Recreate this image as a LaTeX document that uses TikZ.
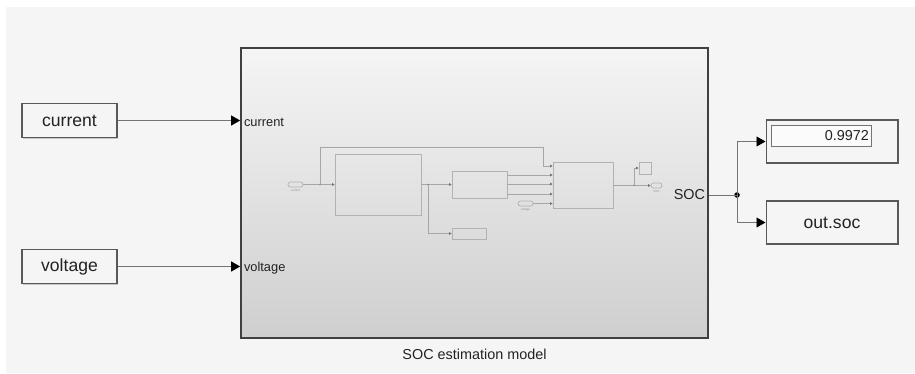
\documentclass[tikz,border=0pt]{standalone}
\usepackage{fontspec}
\setmainfont{Liberation Sans}
\usetikzlibrary{arrows.meta,shadows}

\definecolor{canvas}{HTML}{F5F5F5}
\definecolor{ink}{HTML}{222222}

\begin{document}
\begin{tikzpicture}[x=0.02cm,y=-0.02cm]
\tikzstyle{block}=[draw=black!65, line width=0.6pt, fill=canvas, inner sep=0pt,
  drop shadow={shadow xshift=0.8pt, shadow yshift=-0.8pt, fill=black!40},
  minimum width=1.9cm, minimum height=0.69cm, text=ink, font=\fontsize{10}{12}\selectfont]
\tikzstyle{sub}=[draw=black!75, line width=1pt, inner sep=0pt,
  top color=canvas, middle color=black!6, bottom color=black!19,
  drop shadow={shadow xshift=0.8pt, shadow yshift=-0.8pt, fill=black!40},
  minimum width=9.34cm, minimum height=5.8cm]
\tikzstyle{port}=[text=ink, inner sep=2pt, font=\fontsize{7.3}{9}\selectfont]
\tikzstyle{sig}=[draw=black!55, line width=0.5pt, -{Triangle[length=0.18cm,width=0.2cm,color=black]}]
\tikzstyle{line}=[draw=black!55, line width=0.5pt]
\tikzstyle{mini}=[draw=black!30, line width=0.4pt, inner sep=0pt]
\tikzstyle{minio}=[mini, rounded corners=0.05cm, minimum height=0.1cm]
\tikzstyle{wire}=[draw=black!35, line width=0.35pt]
\tikzstyle{mwire}=[wire, -{Triangle[length=0.05cm,width=0.05cm,color=black!55]}]
\tikzstyle{tiny}=[text=black!45, inner sep=0pt, font=\fontsize{1.6}{2}\selectfont]

\useasboundingbox (0,0) rectangle (915,373);
\fill[white] (0,0) rectangle (915,373);
\fill[canvas] (6,7) rectangle (915,373);

% sources
\node[block] (cur) at (69.5,120.5) {current};
\node[block] (volt) at (69.5,266.5) {voltage};

% subsystem
\node[sub] (soc) at (474.5,193) {};
\node[text=ink, font=\fontsize{8.2}{10}\selectfont] (cap) at (474.5,354) {SOC estimation model};

\draw[sig] (cur.east) -- (cur.east -| soc.west);
\draw[sig] (volt.east) -- (volt.east -| soc.west);
\node[port, anchor=west] (pcur) at ([yshift=-1pt]cur.east -| soc.west) {current};
\node[port, anchor=west] (pvolt) at ([yshift=-1pt]volt.east -| soc.west) {voltage};

% contents of the subsystem
\node[minio, minimum width=0.3cm] (inc) at (295.5,184.5) {};
\node[tiny] (lc) at (295.5,191) {current};
\node[mini, minimum width=1.72cm, minimum height=1.22cm] (b1) at (378,184.5) {};
\node[mini, minimum width=1.1cm, minimum height=0.54cm] (b2) at (479.5,184.5) {};
\node[mini, minimum width=0.68cm, minimum height=0.22cm] (b4) at (469,233.5) {};
\node[mini, minimum width=1.2cm, minimum height=0.92cm] (b3) at (583,185) {};
\node[minio, minimum width=0.3cm] (inv) at (525.5,203.5) {};
\node[tiny] (lv) at (525.5,210) {voltage};
\node[minio, minimum width=0.22cm] (outs) at (656.5,185.5) {};
\node[tiny] (ls) at (656.5,192) {SOC};
\node[mini, minimum width=0.24cm, minimum height=0.24cm] (scp) at (645,168) {};

\coordinate (jc) at (320,184.5);
\coordinate (j1) at (428,184.5);
\coordinate (j2) at (634,185.5);
\draw[mwire] (inc.east) -- (b1.west);
\draw[mwire] (jc) |- (543,147) |- (b3.west |- 0,166);
\draw[mwire] (b1.east) -- (b2.west);
\draw[mwire] (j1) |- (b4.west);
\foreach \y in {175,184,194}
  \draw[mwire] (b2.east |- 0,\y) -- (b3.west |- 0,\y);
\draw[mwire] (inv.east) -- (b3.west |- inv);
\draw[mwire] (b3.east |- j2) -- (outs.west);
\draw[mwire] (j2) |- (scp.west);
\foreach \p in {jc,j1,j2}
  \fill[black!45] (\p) circle (0.018cm);

% sinks
\node[block, minimum width=2.64cm, minimum height=0.86cm] (disp) at (832,141.5) {};
\node[draw=black!55, line width=0.4pt, fill=white!60!canvas, text=ink, inner sep=0pt,
  minimum width=2cm, minimum height=0.42cm, text width=1.92cm, align=right,
  font=\fontsize{8.2}{10}\selectfont] (val) at (821,135.5) {0.9972};
\node[block, minimum width=2.64cm, minimum height=0.86cm] (out) at (832,222.5) {out.soc};

\node[circle, fill=black, inner sep=0pt, minimum size=0.11cm] (j) at (737,195) {};
\node[port, anchor=east, font=\fontsize{8.2}{10}\selectfont] (psoc) at (soc.east |- j) {SOC};
\draw[line] (soc.east |- j) -- (j.center);
\draw[sig] (j.center) |- (disp.west);
\draw[sig] (j.center) |- (out.west);
\end{tikzpicture}
\end{document}
